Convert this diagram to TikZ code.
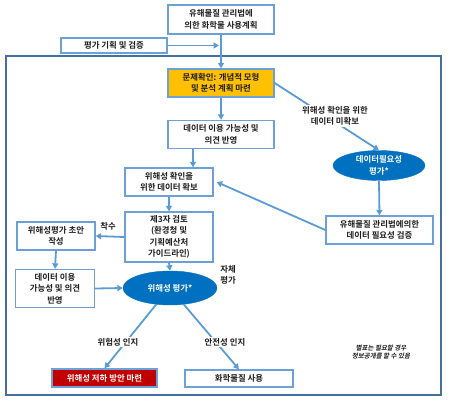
\documentclass[tikz,border=0pt]{standalone}
\usepackage{fontspec}
\setmainfont{Noto Sans CJK KR}[BoldFont={Noto Sans CJK KR Bold}]
\newfontfamily\notefont{Noto Sans CJK KR Bold}[FakeSlant=0.2]
\usetikzlibrary{arrows.meta,shapes.geometric,calc}
\definecolor{arrowblue}{RGB}{91,155,213}
\definecolor{boxline}{RGB}{110,160,215}
\definecolor{framecol}{RGB}{70,110,160}
\definecolor{ellblue}{RGB}{0,112,192}
\definecolor{gold}{RGB}{255,192,0}
\definecolor{darkred}{RGB}{192,0,0}
\definecolor{txt}{RGB}{30,30,30}
\begin{document}
\begin{tikzpicture}[x=1pt,y=-1pt,
  font=\bfseries\fontsize{8.4}{11.5}\selectfont,
  boxnode/.style={draw=boxline,line width=1.3pt,fill=white,text=txt,align=center,inner sep=1pt},
  ellnode/.style={ellipse,fill=ellblue,draw=ellblue,text=white,align=center,inner sep=0pt},
  arr/.style={draw=arrowblue,line width=1.8pt,-{Triangle[length=5.5pt,width=6pt]}},
  lbl/.style={fill=white,text=txt,align=center,inner sep=1pt}]
\useasboundingbox (0,0) rectangle (451,402);
% frame
\draw[framecol,line width=2.4pt] (6,56) rectangle (441,395);
% nodes
\node[boxnode,minimum width=106pt,minimum height=29pt] (top) at (221,19.5) {유해물질 관리법에\\의한 화학물 사용계획};
\node[boxnode,minimum width=106pt,minimum height=15pt] (eval) at (114,45.5) {평가 기획 및 검증};
\node[boxnode,fill=gold,minimum width=106pt,minimum height=28pt] (prob) at (221,83) {문제확인: 개념적 모형\\및 분석 계획 마련};
\node[boxnode,minimum width=106pt,minimum height=28pt] (avail) at (221,134.5) {데이터 이용 가능성 및\\의견 반영};
\node[boxnode,minimum width=88pt,minimum height=28pt] (confirm) at (169,182) {위해성 확인을\\위한 데이터 확보};
\node[boxnode,minimum width=88pt,minimum height=50pt] (third) at (169,237) {제3자 검토\\(환경청 및\\기획예산처\\가이드라인)};
\node[boxnode,minimum width=78pt,minimum height=28pt] (draft) at (56,236) {위해성평가 초안\\작성};
\node[boxnode,minimum width=79pt,minimum height=38pt] (avail2) at (55,288.5) {데이터 이용\\가능성 및 의견\\반영};
\node[ellnode,minimum width=92pt,minimum height=30pt] (need) at (379,165.5) {데이터필요성\\평가*};
\node[boxnode,minimum width=107pt,minimum height=28pt] (verify) at (379.5,230) {유해물질 관리법에의한\\데이터 필요성 검증};
\node[ellnode,minimum width=94pt,minimum height=34pt] (risk) at (170,288) {위해성 평가*};
\node[boxnode,fill=darkred,text=white,minimum width=105pt,minimum height=18pt] (red) at (104.5,378) {위해성 저하 방안 마련};
\node[boxnode,minimum width=108pt,minimum height=17pt] (use) at (239,378.5) {화학물질 사용};
% helper coordinates
\coordinate (xa) at (193,0);
\coordinate (ja) at (221,45.5);
% arrows
\draw[arr] (top.south) -- (prob.north);
\draw[arr] (eval.east) -- ($(ja)+(-2,0)$);
\draw[arr] (prob.south) -- (avail.north);
\draw[arr] (avail.south -| xa) -- (confirm.north -| xa);
\draw[arr] (prob.east) -- (need.north);
\node[lbl] (lab1) at (335,116) {위해성 확인을 위한\\데이터 미확보};
\draw[arr] (need.south) -- (verify.north);
\draw[arr] (verify.west) -- ($(confirm.east)+(3,0)$);
\draw[arr] (confirm.south) -- (third.north);
\draw[arr] (third.west) -- (draft.east);
\node[text=txt] (lab2) at (108,226) {착수};
\draw[arr] (draft.south) -- (avail2.north);
\draw[arr] (avail2.east) -- (risk.west);
\draw[arr] (third.south) -- (risk.north);
\node[text=txt,align=left] (lab3) at (228,275) {자체\\평가};
\draw[arr] (risk.-130) -- (red.north);
\node[lbl] (lab4) at (118,342) {위험성 인지};
\draw[arr] (risk.-50) -- (use.north);
\node[lbl] (lab5) at (225,342) {안전성 인지};
\node[text=txt,align=center,font=\notefont\fontsize{6.5}{8.5}\selectfont] (note) at (381,352) {별표는 필요할 경우\\정보공개를 할 수 있음};
\end{tikzpicture}
\end{document}
